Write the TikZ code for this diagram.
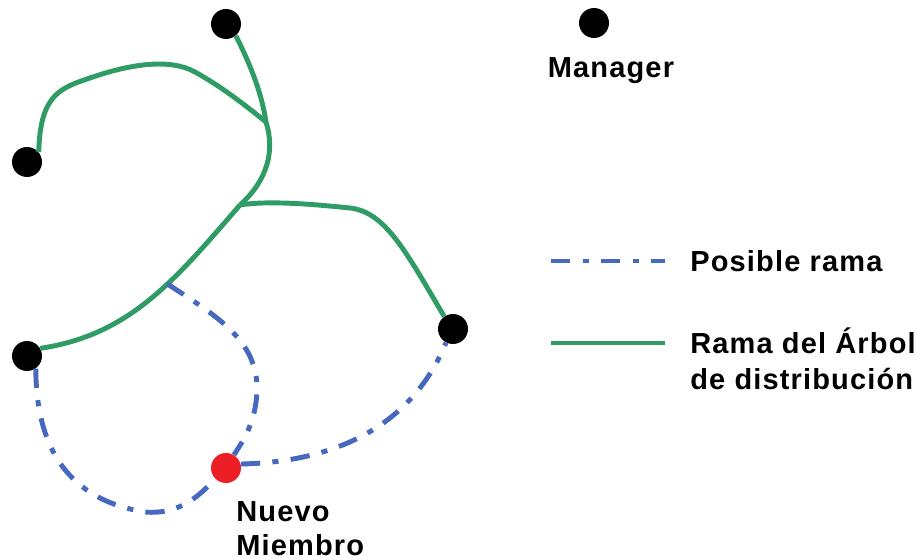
\documentclass[tikz,border=0pt]{standalone}
\usepackage{fontspec}
\setmainfont{Liberation Sans}
\definecolor{treegreen}{RGB}{46,156,100}
\definecolor{branchblue}{RGB}{70,104,190}
\definecolor{newred}{RGB}{236,30,38}
\begin{document}
\begin{tikzpicture}[x=0.02cm,y=-0.02cm,
    manager/.style={circle,fill=black,inner sep=0pt,minimum size=0.6cm},
    newmember/.style={circle,fill=newred,inner sep=0pt,minimum size=0.6cm},
    treebranch/.style={draw=treegreen,line width=2.8pt},
    possible/.style={draw=branchblue,line width=2.8pt,
      dash pattern=on 11pt off 7pt on 3.5pt off 7pt},
    label/.style={font=\fontsize{16.5}{19}\selectfont\bfseries\addfontfeature{LetterSpace=4},
      inner sep=0pt,align=left}]
  \useasboundingbox (0,0) rectangle (923,560);
  % managers and the new member
  \node[manager] (top) at (226,24) {};
  \node[manager] (ul) at (27,162) {};
  \node[manager] (ll) at (27,356) {};
  \node[manager] (rt) at (453,329) {};
  \node[newmember] (nm) at (226,468) {};
  \coordinate (j1) at (266,122);
  \coordinate (j2) at (240,205);
  % distribution tree
  \draw[treebranch] (top.-50) .. controls (252,68) and (262,95) .. (j1);
  \draw[treebranch] (ul.40) .. controls (40,95) and (60,88) .. (90,78)
    .. controls (130,64) and (170,58) .. (195,72)
    .. controls (222,87) and (245,105) .. (j1);
  \draw[treebranch] (j1) .. controls (275,150) and (268,180) .. (j2);
  \draw[treebranch] (j2) .. controls (270,200) and (320,205) .. (350,208)
    .. controls (385,212) and (405,250) .. (rt.125);
  \draw[treebranch] (j2) .. controls (175,280) and (130,335) .. coordinate[pos=0.4] (k) (ll.30);
  % possible branches
  \draw[possible] (k) .. controls (215,315) and (258,340) .. (257,390)
    .. controls (256,425) and (240,445) .. (nm);
  \draw[possible] (ll.-55) .. controls (36,450) and (70,500) .. (145,512)
    .. controls (180,515) and (200,495) .. (nm.225);
  \draw[possible] (nm.15) .. controls (330,462) and (410,430) .. (rt.-117);
  \node[label,anchor=base west] (nmtext) at (236,555) {Nuevo\\Miembro};
  % legend
  \node[manager] (lgm) at (594,23) {};
  \node[label,anchor=base] (lgmtext) at (611,78) {Manager};
  \coordinate (pb1) at (551,261);
  \coordinate (pb2) at (665,261);
  \draw[possible] (pb1) -- (pb2);
  \node[label,anchor=base west] (pbtext) at (690,272) {Posible rama};
  \coordinate (tb1) at (551,343);
  \coordinate (tb2) at (665,343);
  \draw[treebranch] (tb1) -- (tb2);
  \node[label,anchor=base west] (tbtext) at (690,390) {Rama del Árbol\\[2pt]de distribución};
\end{tikzpicture}
\end{document}
